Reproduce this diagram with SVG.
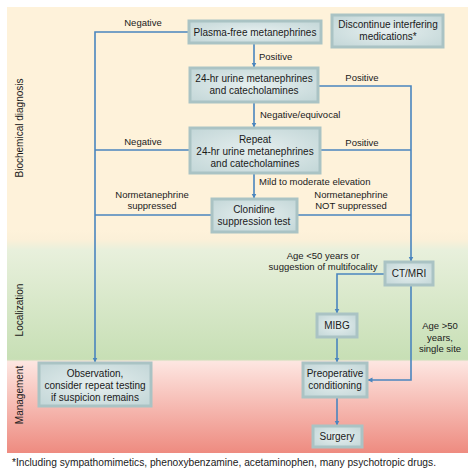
<svg xmlns="http://www.w3.org/2000/svg" width="474" height="473" viewBox="0 0 474 473">
<defs>
<linearGradient id="bg" x1="0" y1="0" x2="0" y2="1" gradientUnits="objectBoundingBox">
<stop offset="0" stop-color="#fef2da"/>
<stop offset="0.5" stop-color="#fef2da"/>
<stop offset="0.522" stop-color="#fbf0d8"/>
<stop offset="0.545" stop-color="#e8f0dc"/>
<stop offset="0.79" stop-color="#c7dfb5"/>
<stop offset="0.795" stop-color="#fde6e1"/>
<stop offset="1" stop-color="#ee8b80"/>
</linearGradient>
<radialGradient id="box" cx="0.5" cy="0.5" r="0.7">
<stop offset="0" stop-color="#e6efef"/>
<stop offset="1" stop-color="#c2d6d7"/>
</radialGradient>
<marker id="ah" viewBox="0 0 10 10" refX="9" refY="5" markerWidth="5" markerHeight="6" orient="auto" markerUnits="userSpaceOnUse">
<path d="M0,0 L10,5 L0,10 Z" fill="#4a85be"/>
</marker>
<style>
.b{fill:url(#box);stroke:#aac3c4;stroke-width:3}
.t{font-family:"Liberation Sans",Arial,sans-serif;font-size:10px;fill:#1a1a1a;text-anchor:middle}
.l{font-family:"Liberation Sans",Arial,sans-serif;font-size:9.5px;fill:#1a1a1a}
.c{text-anchor:middle}
.s{font-family:"Liberation Sans",Arial,sans-serif;font-size:10px;fill:#1a1a1a;text-anchor:middle}
.k{fill:none;stroke:#4a85be;stroke-width:1.6}
.a{marker-end:url(#ah)}
</style>
</defs>
<rect x="7" y="7" width="461" height="446" fill="url(#bg)"/>
<text class="s" transform="translate(23,128) rotate(-90)">Biochemical diagnosis</text>
<text class="s" transform="translate(23,310) rotate(-90)">Localization</text>
<text class="s" transform="translate(23,395) rotate(-90)">Management</text>

<g id="connectors">
<path class="k a" d="M189,32 H95 V362"/>
<path class="k" d="M190,150 H95"/>
<path class="k" d="M212,215 H95"/>
<path class="k a" d="M254,43 V67"/>
<path class="k a" d="M254,102 V127"/>
<path class="k a" d="M254,173 V198"/>
<path class="k a" d="M318,86 H411 V261"/>
<path class="k" d="M320,150 H411"/>
<path class="k" d="M297,215 H411"/>
<path class="k a" d="M385,274 H337 V313"/>
<path class="k a" d="M411,285 V380 H368"/>
<path class="k a" d="M337,337 V362"/>
<path class="k a" d="M337,397 V425"/>
<text class="l c" x="143" y="26">Negative</text>
<text class="l" x="259" y="60">Positive</text>
<text class="l c" x="362" y="81">Positive</text>
<text class="l" x="260" y="118">Negative/equivocal</text>
<text class="l c" x="143" y="145">Negative</text>
<text class="l c" x="362" y="146">Positive</text>
<text class="l" x="259" y="185">Mild to moderate elevation</text>
<text class="l c" x="152" y="198">Normetanephrine</text>
<text class="l c" x="152" y="209">suppressed</text>
<text class="l c" x="351" y="198">Normetanephrine</text>
<text class="l c" x="351" y="209">NOT suppressed</text>
<text class="l c" x="323" y="259">Age &lt;50 years or</text>
<text class="l c" x="323" y="270">suggestion of multifocality</text>
<text class="l c" x="440" y="329">Age &gt;50</text>
<text class="l c" x="440" y="341">years,</text>
<text class="l c" x="440" y="352">single site</text>
</g>

<g id="plasma"><rect class="b" x="189" y="21" width="132" height="22"/><text class="t" x="255" y="36">Plasma-free metanephrines</text></g>
<g id="discontinue"><rect class="b" x="332" y="15" width="111" height="32"/><text class="t" x="388" y="28">Discontinue interfering</text><text class="t" x="388" y="40">medications*</text></g>
<g id="urine24"><rect class="b" x="190" y="68" width="128" height="34"/><text class="t" x="254" y="82">24-hr urine metanephrines</text><text class="t" x="254" y="94">and catecholamines</text></g>
<g id="repeat"><rect class="b" x="190" y="128" width="130" height="45"/><text class="t" x="255" y="143">Repeat</text><text class="t" x="255" y="155">24-hr urine metanephrines</text><text class="t" x="255" y="167">and catecholamines</text></g>
<g id="clonidine"><rect class="b" x="212" y="199" width="85" height="33"/><text class="t" x="254" y="213">Clonidine</text><text class="t" x="254" y="225">suppression test</text></g>
<g id="ctmri"><rect class="b" x="385" y="262" width="48" height="23"/><text class="t" x="409" y="277">CT/MRI</text></g>
<g id="mibg"><rect class="b" x="317" y="314" width="40" height="23"/><text class="t" x="337" y="329">MIBG</text></g>
<g id="observation"><rect class="b" x="39" y="363" width="112" height="43"/><text class="t" x="95" y="377">Observation,</text><text class="t" x="95" y="389">consider repeat testing</text><text class="t" x="95" y="401">if suspicion remains</text></g>
<g id="preop"><rect class="b" x="303" y="363" width="64" height="34"/><text class="t" x="335" y="377">Preoperative</text><text class="t" x="335" y="389">conditioning</text></g>
<g id="surgery"><rect class="b" x="313" y="426" width="49" height="21"/><text class="t" x="337" y="440">Surgery</text></g>

<text class="l" x="12" y="466" style="font-size:10.3px" textLength="424" lengthAdjust="spacingAndGlyphs">*Including sympathomimetics, phenoxybenzamine, acetaminophen, many psychotropic drugs.</text>
</svg>
